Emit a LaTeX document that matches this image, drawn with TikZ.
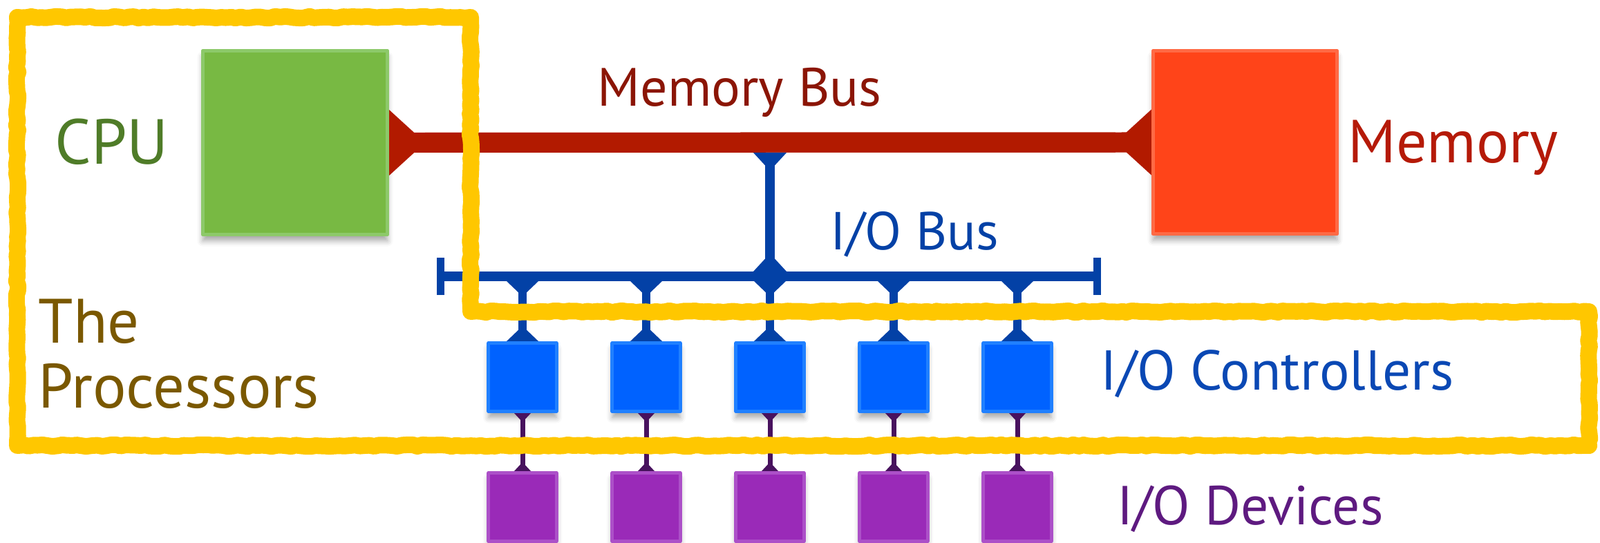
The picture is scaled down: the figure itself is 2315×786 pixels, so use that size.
\documentclass[tikz,border=0pt]{standalone}
\usepackage{fontspec}
\setmainfont{PT Sans}
\usetikzlibrary{arrows.meta,decorations.pathmorphing,shadows.blur}

\definecolor{cpuGreen}{HTML}{78B943}
\definecolor{cpuEdge}{HTML}{8DC96A}
\definecolor{cpuText}{HTML}{4F7C28}
\definecolor{memRed}{HTML}{FF4419}
\definecolor{memEdge}{HTML}{FF6A45}
\definecolor{memText}{HTML}{B51A08}
\definecolor{busRed}{HTML}{B21A00}
\definecolor{busText}{HTML}{8B1505}
\definecolor{ioBlue}{HTML}{0341A6}
\definecolor{ctlBlue}{HTML}{0062FF}
\definecolor{ctlEdge}{HTML}{2080FF}
\definecolor{ctlText}{HTML}{0A48B4}
\definecolor{devPurple}{HTML}{9A2AB8}
\definecolor{devEdge}{HTML}{AC50C8}
\definecolor{devLink}{HTML}{48125E}
\definecolor{devText}{HTML}{5E1A80}
\definecolor{procText}{HTML}{7A5800}
\definecolor{chalk}{HTML}{FFC700}

\begin{document}
\begin{tikzpicture}[x=0.01cm, y=-0.01cm, line join=round,
		hop/.style={blur shadow={shadow xshift=0cm, shadow yshift=-0.09cm, shadow blur radius=0.08cm, shadow opacity=35}},
		box/.style 2 args={rectangle, inner sep=0pt, fill=#1, draw=#2, line width=0.05cm, hop},
		cpubox/.style={box={cpuGreen}{cpuEdge}, minimum width=2.67cm, minimum height=2.66cm},
		membox/.style={box={memRed}{memEdge}, minimum width=2.66cm, minimum height=2.65cm},
		ctlbox/.style={box={ctlBlue}{ctlEdge}, minimum width=0.98cm, minimum height=0.99cm},
		devbox/.style={box={devPurple}{devEdge}, minimum width=0.98cm, minimum height=0.99cm},
		% đường thẳng đầy đủ, rồi vẽ thêm hai đầu loe
		fan/.style 2 args={postaction={draw, {Triangle[reversed, length=#1, width=#2, line width=0pt]}-{Triangle[reversed, length=#1, width=#2, line width=0pt]}}},
		membus/.style={draw=busRed, line width=0.29cm, fan={0.52cm}{0.95cm}},
		tapline/.style={draw=ioBlue, line width=0.14cm, fan={0.26cm}{0.48cm}},
		iobus/.style={draw=ioBlue, line width=0.14cm, {Bar[width=0.54cm, line width=0.11cm]}-{Bar[width=0.54cm, line width=0.11cm]}},
		iodrop/.style={draw=ioBlue, line width=0.12cm, fan={0.22cm}{0.46cm}},
		devlink/.style={draw=devLink, line width=0.07cm, fan={0.13cm}{0.24cm}},
		lbl/.style 2 args={anchor=base west, inner sep=0pt, text=#1, font=\fontsize{#2}{1.12\dimexpr#2\relax}\selectfont},
		chalkline/.style={draw=chalk, line width=0.24cm, decorate, decoration={random steps, segment length=2pt, amplitude=0.35pt}}]
	
	\useasboundingbox (0,0) rectangle (2315,786);
	
	% --- Các khối chính ---
	\node[cpubox] (cpu) at (427,206.5) {};
	\node[membox] (mem) at (1801.5,206) {};
	
	% Hàng bộ điều khiển I/O
	\node[ctlbox] (C_1) at (756,546) {};
	\node[ctlbox] (C_2) at (935,546) {};
	\node[ctlbox] (C_3) at (1114,546) {};
	\node[ctlbox] (C_4) at (1293,546) {};
	\node[ctlbox] (C_5) at (1472,546) {};
	
	% Hàng thiết bị I/O
	\node[devbox] (D_1) at (756,734) {};
	\node[devbox] (D_2) at (935,734) {};
	\node[devbox] (D_3) at (1114,734) {};
	\node[devbox] (D_4) at (1293,734) {};
	\node[devbox] (D_5) at (1472,734) {};
	
	% --- Các điểm mốc trên bus ---
	\coordinate (MB) at (1114,221);
	\coordinate (IB) at (1114,393);
	\coordinate (IO_L) at (632,400);
	\coordinate (IO_R) at (1593,400);
	\coordinate (T_1) at (756,407);
	\coordinate (T_2) at (935,407);
	\coordinate (T_3) at (1114,407);
	\coordinate (T_4) at (1293,407);
	\coordinate (T_5) at (1472,407);
	
	% --- Bus bộ nhớ và bus I/O ---
	\draw[membus] (cpu.east) -- (mem.west);
	\draw[tapline] (MB) -- (IB);
	\draw[iobus] (IO_L) -- (IO_R);
	
	% Nhánh xuống bộ điều khiển
	\draw[iodrop] (T_1) -- (C_1.north);
	\draw[iodrop] (T_2) -- (C_2.north);
	\draw[iodrop] (T_3) -- (C_3.north);
	\draw[iodrop] (T_4) -- (C_4.north);
	\draw[iodrop] (T_5) -- (C_5.north);
	
	% Nối bộ điều khiển với thiết bị
	\draw[devlink] (C_1.south) -- (D_1.north);
	\draw[devlink] (C_2.south) -- (D_2.north);
	\draw[devlink] (C_3.south) -- (D_3.north);
	\draw[devlink] (C_4.south) -- (D_4.north);
	\draw[devlink] (C_5.south) -- (D_5.north);
	
	% --- Nhãn chữ ---
	\node[lbl={cpuText}{26.2pt}] (cpuLbl) at (79,238) {CPU};
	\node[lbl={memText}{25pt}] (memLbl) at (1950,236) {Memory};
	\node[lbl={busText}{22.2pt}] (busLbl) at (864,154) {Memory Bus};
	\node[lbl={ioBlue}{22pt}] (ioLbl) at (1201,362) {I/O Bus};
	\node[lbl={ctlText}{23.1pt}] (ctlLbl) at (1592,565) {I/O Controllers};
	\node[lbl={devText}{22.6pt}] (devLbl) at (1616,760) {I/O Devices};
	\node[lbl={procText}{25.8pt}, font=\fontsize{25.8pt}{26.8pt}\selectfont, align=left] (procLbl) at (55,591) {The\\Processors};
	
	% --- Khung vàng vẽ tay ---
	\draw[chalkline] (25,25) -- (681,25) -- (681,451) -- (2299,451) -- (2299,645) -- (25,645) -- cycle;
	
\end{tikzpicture}
\end{document}
